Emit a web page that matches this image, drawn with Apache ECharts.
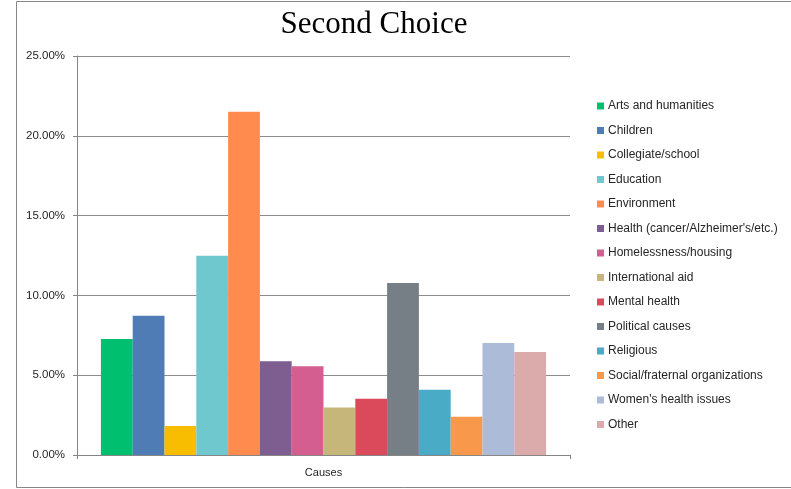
<!DOCTYPE html>
<html>
<head>
<meta charset="utf-8">
<script src="https://cdn.jsdelivr.net/npm/echarts@6/dist/echarts.min.js"></script>
<style>
  html, body { margin: 0; padding: 0; background: #fff; }
  #chart { width: 791px; height: 489px; }
</style>
</head>
<body>
<div id="chart"></div>
<script>
  const categories = ['Causes'];
  const causes = [
    'Arts and humanities', 'Children', 'Collegiate/school', 'Education', 'Environment',
    "Health (cancer/Alzheimer's/etc.)", 'Homelessness/housing', 'International aid',
    'Mental health', 'Political causes', 'Religious', 'Social/fraternal organizations',
    "Women's health issues", 'Other'
  ];
  const shares = [0.0727, 0.0873, 0.0182, 0.1249, 0.2151, 0.0587, 0.0556, 0.0297,
    0.0353, 0.1078, 0.0409, 0.0240, 0.0702, 0.0645];
  const colors = ['#00bf6f', '#507cb6', '#f9bd00', '#6ec8cd', '#ff8b4f', '#7e5e91', '#d35e8f',
    '#c7b67a', '#db4a5b', '#767e86', '#49abc5', '#f7984a', '#abbbd8', '#dbaaaa'];
  const yTicks = [0, 0.05, 0.10, 0.15, 0.20, 0.25];

  const chart = echarts.init(document.getElementById('chart'));

  const series = causes.map((name, i) => ({
    name: name,
    type: 'bar',
    data: [shares[i]],
    barGap: '0%',
    barCategoryGap: '9.7%',
    itemStyle: {color: colors[i]},
    animation: false
  }));

  const option = {
    color: colors,
    title: {
      text: 'Second Choice',
      left: 369,
      top: 4,
      textAlign: 'center',
      textStyle: {fontFamily: 'Liberation Serif', fontSize: 31, fontWeight: 'normal', color: '#000'}
    },
    legend: {
      orient: 'vertical',
      left: 592,
      top: 94,
      itemWidth: 7,
      itemHeight: 7,
      itemGap: 10.5,
      icon: 'rect',
      textStyle: {fontFamily: 'Liberation Sans', fontSize: 12, color: '#262626', padding: [0, 0, 0, -1], lineHeight: 14}
    },
    grid: {left: 77, right: 221, top: 56, bottom: 34},
    xAxis: {
      type: 'category',
      data: categories,
      axisLine: {lineStyle: {color: '#868686', width: 1}},
      axisTick: {show: true, length: 4, lineStyle: {color: '#868686'}},
      axisLabel: {fontFamily: 'Liberation Sans', fontSize: 11, color: '#262626', margin: 12}
    },
    yAxis: {
      type: 'value',
      min: yTicks[0],
      max: yTicks[yTicks.length - 1],
      interval: 0.05,
      axisLine: {show: true, lineStyle: {color: '#868686', width: 1}},
      axisTick: {show: true, length: 4, lineStyle: {color: '#868686'}},
      splitLine: {lineStyle: {color: '#8c8c8c', width: 1}},
      axisLabel: {
        fontFamily: 'Liberation Sans', fontSize: 11.5, color: '#262626', margin: 12,
        formatter: v => (v * 100).toFixed(2) + '%'
      }
    },
    graphic: [{
      type: 'rect',
      shape: {x: 16.5, y: 1.5, width: 800, height: 486},
      style: {fill: 'none', stroke: '#868686', lineWidth: 1},
      silent: true
    }],
    series: series
  };

  chart.setOption(option);
</script>
</body>
</html>
